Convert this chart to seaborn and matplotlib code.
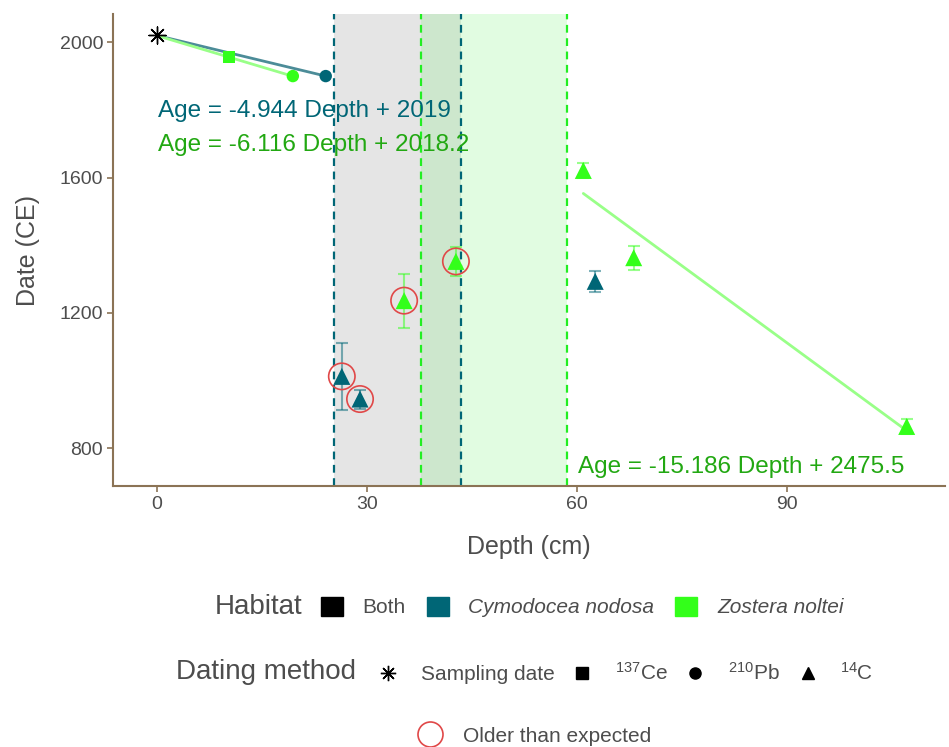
import numpy as np
import pandas as pd
import seaborn as sns
import matplotlib.pyplot as plt
import matplotlib.patches as mpatches
from matplotlib.lines import Line2D

# data
depth = [0.0, 24.1, 10.3, 19.4, 26.4, 29.0, 62.6, 35.3, 42.7, 60.9, 68.1, 107.1]
age = [2020, 1900, 1955, 1900, 1012, 945, 1293, 1236, 1352, 1621, 1363, 864]
age_err = [0, 0, 0, 0, 100, 28, 30, 80, 42, 21, 36, 21]
habitat = ['Both', 'Cymodocea nodosa', 'Zostera noltei', 'Zostera noltei',
           'Cymodocea nodosa', 'Cymodocea nodosa', 'Cymodocea nodosa',
           'Zostera noltei', 'Zostera noltei', 'Zostera noltei', 'Zostera noltei', 'Zostera noltei']
method = ['Sampling date', '210Pb', '137Ce', '210Pb', '14C', '14C', '14C', '14C', '14C', '14C', '14C', '14C']
older = [False, False, False, False, True, True, False, True, True, False, False, False]

# gaps with no dated material, per habitat
cymo_gap = (25.3, 43.4)
zost_gap = (37.7, 58.6)

equations = ['Age = -4.944 Depth + 2019', 'Age = -6.116 Depth + 2018.2', 'Age = -15.186 Depth + 2475.5']
eq_pos = [(0.2, 1796), (0.2, 1695), (60.1, 745)]

teal = '#006676'
green = '#33FF1A'
eq_green = '#22A812'
grey_txt = '#4D4D4D'
spine_col = '#8B7355'

df = pd.DataFrame({'depth': depth, 'age': age, 'err': age_err, 'habitat': habitat,
                   'method': method, 'older': older})

sns.set_theme(style='white')
plt.rcParams['font.family'] = ['Liberation Sans', 'DejaVu Sans']
plt.rcParams['mathtext.default'] = 'regular'

fig = plt.figure(figsize=(9.49, 7.47), dpi=100)
ax = fig.add_axes([0.119, 0.349, 0.877, 0.632])

# shaded gaps
ax.axvspan(*cymo_gap, color='#E5E5E5', lw=0, zorder=0)
ax.axvspan(*zost_gap, color='#78F278', alpha=0.22, lw=0, zorder=0.5)
for x in cymo_gap:
    ax.axvline(x, color=teal, ls=(0, (3.5, 2.5)), lw=1.6, zorder=1)
for x in zost_gap:
    ax.axvline(x, color='#22EE22', ls=(0, (3.5, 2.5)), lw=1.6, zorder=1)

# regression lines
cymo_top = df[(df['method'] != '14C') & (df['habitat'] != 'Zostera noltei')]
zost_top = df[(df['method'] != '14C') & (df['habitat'] != 'Cymodocea nodosa')]
zost_c14 = df[(df['method'] == '14C') & (df['habitat'] == 'Zostera noltei') & (df['depth'] > 58.6)]
sns.regplot(data=cymo_top, x='depth', y='age', scatter=False, ci=None, truncate=True,
            line_kws=dict(color='#4C8C98', lw=2, zorder=2), ax=ax)
sns.regplot(data=zost_top, x='depth', y='age', scatter=False, ci=None, truncate=True,
            line_kws=dict(color='#99FF88', lw=2, zorder=2), ax=ax)
sns.regplot(data=zost_c14, x='depth', y='age', scatter=False, ci=None, truncate=True,
            line_kws=dict(color='#99FF88', lw=2, zorder=2), ax=ax)

# error bars for 14C
pal = {'Both': 'black', 'Cymodocea nodosa': teal, 'Zostera noltei': green}
c14 = df[df['method'] == '14C']
for hab, sub in c14.groupby('habitat'):
    ax.errorbar(sub['depth'], sub['age'], yerr=sub['err'], fmt='none', ecolor=pal[hab],
                alpha=0.5, capsize=4.3, elinewidth=1.5, capthick=1.5, zorder=3)

# points
marks = {'137Ce': ('s', 70), '210Pb': ('o', 80), '14C': ('^', 150)}
for m, (mk, sz) in marks.items():
    sub = df[df['method'] == m]
    sns.scatterplot(data=sub, x='depth', y='age', hue='habitat', palette=pal, marker=mk,
                    s=sz, linewidth=0, legend=False, zorder=4, ax=ax)
samp = df[df['method'] == 'Sampling date']
ax.scatter(samp['depth'], samp['age'], marker=(8, 2, 0), s=150, color='black', lw=1.0, zorder=4)

# older than expected
old = df[df['older']]
ax.scatter(old['depth'], old['age'], s=360, facecolors='none', edgecolors='#E04848', lw=1.2, zorder=5)

# equations
eq_cols = [teal, eq_green, eq_green]
for txt, (x, y), c in zip(equations, eq_pos, eq_cols):
    ax.text(x, y, txt, color=c, fontsize=17.5, va='center', ha='left', zorder=6)

ax.set_xlim(-6.3, 112.6)
ax.set_ylim(687, 2083)
ax.set_xticks([0, 30, 60, 90])
ax.set_yticks([800, 1200, 1600, 2000])
ax.set_xlabel('Depth (cm)', fontsize=18, color=grey_txt, labelpad=16)
ax.set_ylabel('Date (CE)', fontsize=18, color=grey_txt, labelpad=14)
ax.tick_params(axis='both', labelsize=14, labelcolor=grey_txt, color=spine_col,
               length=4, width=1.2, bottom=True, left=True, pad=3)
for s in ['top', 'right']:
    ax.spines[s].set_visible(False)
for s in ['left', 'bottom']:
    ax.spines[s].set_color(spine_col)
    ax.spines[s].set_linewidth(1.5)

# legends below the plot
W, H = 949, 747
fig.text(302 / W, 1 - 607 / H, 'Habitat', fontsize=20, color=grey_txt, ha='right', va='center')
hab_handles = [mpatches.Patch(color=pal[h]) for h in ['Both', 'Cymodocea nodosa', 'Zostera noltei']]
leg1 = fig.legend(hab_handles, ['Both', 'Cymodocea nodosa', 'Zostera noltei'], ncol=3,
                  loc='center left', bbox_to_anchor=(321 / W, 1 - 607 / H), frameon=False,
                  fontsize=15, handlelength=1.05, handleheight=1.05, handletextpad=0.95,
                  columnspacing=1.0, borderpad=0, borderaxespad=0, labelcolor=grey_txt)
for t in leg1.get_texts()[1:]:
    t.set_fontstyle('italic')

fig.text(356 / W, 1 - 672 / H, 'Dating method', fontsize=20, color=grey_txt, ha='right', va='center')
meth_handles = [
    Line2D([], [], ls='none', marker=(8, 2, 0), color='black', markersize=11, mew=1.0),
    Line2D([], [], ls='none', marker='s', color='black', markersize=8),
    Line2D([], [], ls='none', marker='o', color='black', markersize=8),
    Line2D([], [], ls='none', marker='^', color='black', markersize=9),
]
meth_labels = ['Sampling date', r'$^{137}$Ce', r'$^{210}$Pb', r'$^{14}$C']
fig.legend(meth_handles, meth_labels, ncol=4, loc='center left',
           bbox_to_anchor=(377 / W, 1 - 673 / H), frameon=False, fontsize=15,
           handlelength=1.05, handletextpad=1.05, columnspacing=0.8,
           borderpad=0, borderaxespad=0, labelcolor=grey_txt)

old_handle = [Line2D([], [], ls='none', marker='o', markersize=18, mfc='none', mec='#E04848', mew=1.2)]
fig.legend(old_handle, ['Older than expected'], loc='center left',
           bbox_to_anchor=(415 / W, 1 - 736 / H), frameon=False, fontsize=15,
           handlelength=1.4, handletextpad=0.9, borderpad=0, borderaxespad=0, labelcolor=grey_txt)

fig.savefig('out.png', dpi=100)
